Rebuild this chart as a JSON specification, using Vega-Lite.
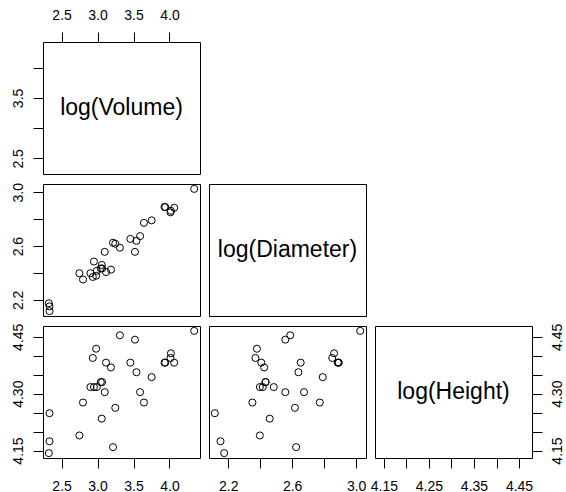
{
  "$schema": "https://vega.github.io/schema/vega-lite/v6.json",
  "padding": {"left": 10, "top": 7, "right": 0, "bottom": 0},
  "background": "white",
  "datasets": {
    "trees": [
      {"V": 2.3321, "D": 2.1163, "H": 4.2485},
      {"V": 2.3321, "D": 2.1518, "H": 4.1744},
      {"V": 2.3224, "D": 2.1748, "H": 4.1431},
      {"V": 2.7973, "D": 2.3514, "H": 4.2767},
      {"V": 2.9339, "D": 2.3702, "H": 4.3944},
      {"V": 2.9806, "D": 2.3795, "H": 4.4188},
      {"V": 2.7473, "D": 2.3979, "H": 4.1897},
      {"V": 2.9014, "D": 2.3979, "H": 4.3175},
      {"V": 3.1179, "D": 2.4069, "H": 4.3820},
      {"V": 2.9907, "D": 2.4159, "H": 4.3175},
      {"V": 3.1864, "D": 2.4248, "H": 4.3694},
      {"V": 3.0445, "D": 2.4336, "H": 4.3307},
      {"V": 3.0634, "D": 2.4336, "H": 4.3307},
      {"V": 3.0587, "D": 2.4596, "H": 4.2341},
      {"V": 2.9497, "D": 2.4849, "H": 4.3175},
      {"V": 3.1001, "D": 2.5572, "H": 4.3041},
      {"V": 3.5205, "D": 2.5572, "H": 4.4427},
      {"V": 3.3105, "D": 2.5878, "H": 4.4543},
      {"V": 3.2465, "D": 2.6174, "H": 4.2627},
      {"V": 3.2149, "D": 2.6247, "H": 4.1589},
      {"V": 3.5410, "D": 2.6391, "H": 4.3567},
      {"V": 3.4563, "D": 2.6532, "H": 4.3820},
      {"V": 3.5918, "D": 2.6741, "H": 4.3041},
      {"V": 3.6454, "D": 2.7726, "H": 4.2767},
      {"V": 3.7519, "D": 2.7912, "H": 4.3438},
      {"V": 4.0146, "D": 2.8507, "H": 4.3944},
      {"V": 4.0200, "D": 2.8622, "H": 4.4067},
      {"V": 4.0656, "D": 2.8848, "H": 4.3820},
      {"V": 3.9416, "D": 2.8904, "H": 4.3820},
      {"V": 3.9318, "D": 2.8904, "H": 4.3820},
      {"V": 4.3438, "D": 3.0253, "H": 4.4659}
    ]
  },
  "config": {
    "font": "Liberation Sans",
    "view": {"stroke": "black", "strokeWidth": 1},
    "axis": {
      "domain": false,
      "grid": false,
      "ticks": true,
      "tickColor": "black",
      "tickSize": 10,
      "tickWidth": 1,
      "labelColor": "black",
      "labelFont": "Liberation Sans",
      "labelFontSize": 14,
      "labelOverlap": false,
      "labelFlush": false,
      "labelBound": false,
      "labelPadding": 8
    },
    "point": {"shape": "circle", "filled": false, "stroke": "black", "strokeWidth": 1, "size": 50, "opacity": 1},
    "text": {"font": "Liberation Sans", "fontSize": 23, "color": "black"}
  },
  "columns": 3,
  "spacing": {"row": 10, "column": 9},
  "bounds": "flush",
  "align": "all",
  "concat": [
    {
      "width": 157, "height": 132,
      "data": {"values": [{"label": "log(Volume)"}]},
      "mark": {"type": "text", "baseline": "middle", "align": "center"},
      "encoding": {
        "text": {"field": "label", "type": "nominal"},
        "x": {"datum": 3.3331, "type": "quantitative",
              "scale": {"domain": [2.2415, 4.4247], "zero": false, "nice": false},
              "axis": {"orient": "top", "title": null, "values": [2.5, 3.0, 3.5, 4.0],
                       "labelExpr": "format(datum.value, '.1f')", "labelPadding": 10}},
        "y": {"datum": 3.3331, "type": "quantitative",
              "scale": {"domain": [2.2415, 4.4247], "zero": false, "nice": false},
              "axis": {"orient": "left", "title": null, "values": [2.5, 3.0, 3.5, 4.0],
                       "labelAngle": -90, "labelAlign": "center", "labelBaseline": "bottom",
                       "labelExpr": "indexof([25, 35], round(datum.value * 10)) >= 0 ? format(datum.value, '.1f') : ''"}}
      }
    },
    {"width": 157, "height": 132, "data": {"values": []}, "mark": "point", "view": {"stroke": null}},
    {"width": 157, "height": 132, "data": {"values": []}, "mark": "point", "view": {"stroke": null}},
    {
      "width": 157, "height": 132,
      "data": {"name": "trees"},
      "mark": "point",
      "encoding": {
        "x": {"field": "V", "type": "quantitative",
              "scale": {"domain": [2.2415, 4.4247], "zero": false, "nice": false}, "axis": null},
        "y": {"field": "D", "type": "quantitative",
              "scale": {"domain": [2.0799, 3.0617], "zero": false, "nice": false},
              "axis": {"orient": "left", "title": null, "values": [2.2, 2.4, 2.6, 2.8, 3.0],
                       "labelAngle": -90, "labelAlign": "center", "labelBaseline": "bottom",
                       "labelExpr": "indexof([22, 26, 30], round(datum.value * 10)) >= 0 ? format(datum.value, '.1f') : ''"}}
      }
    },
    {
      "width": 157, "height": 132,
      "data": {"values": [{"label": "log(Diameter)"}]},
      "mark": {"type": "text", "baseline": "middle", "align": "center"},
      "encoding": {
        "text": {"field": "label", "type": "nominal"},
        "x": {"datum": 0.5, "type": "quantitative", "scale": {"domain": [0, 1]}, "axis": null},
        "y": {"datum": 0.5, "type": "quantitative", "scale": {"domain": [0, 1]}, "axis": null}
      }
    },
    {"width": 157, "height": 132, "data": {"values": []}, "mark": "point", "view": {"stroke": null}},
    {
      "width": 157, "height": 132,
      "data": {"name": "trees"},
      "mark": "point",
      "encoding": {
        "x": {"field": "V", "type": "quantitative",
              "scale": {"domain": [2.2415, 4.4247], "zero": false, "nice": false},
              "axis": {"orient": "bottom", "title": null, "values": [2.5, 3.0, 3.5, 4.0],
                       "labelExpr": "format(datum.value, '.1f')", "labelPadding": 11}},
        "y": {"field": "H", "type": "quantitative",
              "scale": {"domain": [4.1302, 4.4788], "zero": false, "nice": false},
              "axis": {"orient": "left", "title": null, "values": [4.15, 4.2, 4.25, 4.3, 4.35, 4.4, 4.45],
                       "labelAngle": -90, "labelAlign": "center", "labelBaseline": "bottom",
                       "labelExpr": "indexof([415, 430, 445], round(datum.value * 100)) >= 0 ? format(datum.value, '.2f') : ''"}}
      }
    },
    {
      "width": 157, "height": 132,
      "data": {"name": "trees"},
      "mark": "point",
      "encoding": {
        "x": {"field": "D", "type": "quantitative",
              "scale": {"domain": [2.0799, 3.0617], "zero": false, "nice": false},
              "axis": {"orient": "bottom", "title": null, "values": [2.2, 2.4, 2.6, 2.8, 3.0],
                       "labelPadding": 11,
                       "labelExpr": "indexof([22, 26, 30], round(datum.value * 10)) >= 0 ? format(datum.value, '.1f') : ''"}},
        "y": {"field": "H", "type": "quantitative",
              "scale": {"domain": [4.1302, 4.4788], "zero": false, "nice": false}, "axis": null}
      }
    },
    {
      "width": 157, "height": 132,
      "data": {"values": [{"label": "log(Height)"}]},
      "mark": {"type": "text", "baseline": "middle", "align": "center"},
      "encoding": {
        "text": {"field": "label", "type": "nominal"},
        "x": {"datum": 4.3045, "type": "quantitative",
              "scale": {"domain": [4.1302, 4.4788], "zero": false, "nice": false},
              "axis": {"orient": "bottom", "title": null, "values": [4.15, 4.2, 4.25, 4.3, 4.35, 4.4, 4.45],
                       "labelPadding": 11,
                       "labelExpr": "indexof([415, 425, 435, 445], round(datum.value * 100)) >= 0 ? format(datum.value, '.2f') : ''"}},
        "y": {"datum": 4.3045, "type": "quantitative",
              "scale": {"domain": [4.1302, 4.4788], "zero": false, "nice": false},
              "axis": {"orient": "right", "title": null, "values": [4.15, 4.2, 4.25, 4.3, 4.35, 4.4, 4.45],
                       "labelAngle": -90, "labelAlign": "center", "labelBaseline": "top",
                       "labelExpr": "indexof([415, 430, 445], round(datum.value * 100)) >= 0 ? format(datum.value, '.2f') : ''"}}
      }
    }
  ]
}
